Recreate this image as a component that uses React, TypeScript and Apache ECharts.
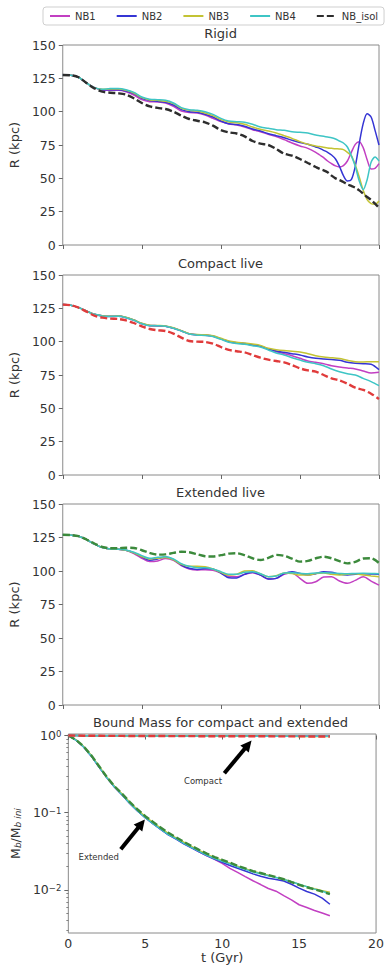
import React, { useEffect, useRef } from 'react';
import * as echarts from 'echarts';

// ---------- time grids ----------
const T_RIGID = [0, 0.5, 1, 1.5, 2, 2.5, 3, 3.5, 4, 4.5, 5, 5.5, 6, 6.5, 7, 7.5, 8, 8.5, 9, 9.5, 10, 10.5, 11, 11.5, 12, 12.5, 13, 13.5, 14, 14.5, 15, 15.5, 16,
  16.25, 16.5, 16.75, 17, 17.25, 17.5, 17.75, 18, 18.25, 18.5, 18.75, 19, 19.25, 19.5, 19.75, 20];
const T_HALF = [0, 0.5, 1, 1.5, 2, 2.5, 3, 3.5, 4, 4.5, 5, 5.5, 6, 6.5, 7, 7.5, 8, 8.5, 9, 9.5, 10, 10.5, 11, 11.5, 12, 12.5, 13, 13.5, 14, 14.5, 15, 15.5, 16, 16.5, 17, 17.5, 18, 18.5, 19, 19.5, 20];
const T_MASS = [0, 0.5, 1, 1.5, 2, 2.5, 3, 3.5, 4, 4.5, 5, 5.5, 6, 6.5, 7, 7.5, 8, 8.5, 9, 9.5, 10, 10.5, 11, 11.5, 12, 12.5, 13, 13.5, 14, 14.5, 15, 15.5, 16, 16.5, 17];

// ---------- Rigid: R (kpc) ----------
const RIGID_NB1 = [127.5, 127.3, 125.8, 121.5, 118, 116.3, 116, 116, 115, 112.5, 109, 107.5, 107.3, 106.5, 104, 100.5, 99.3, 99, 97.5, 95, 92.5, 90.8, 90, 88.5, 86.5, 85, 83, 81.3, 79, 76.5, 74.3, 72.5, 69.5,
  67.5, 65.5, 63, 61, 59.3, 58.5, 59.5, 63, 69.5, 75.5, 77.5, 73, 64, 57, 57.5, 61];
const RIGID_NB2 = [127.5, 127.3, 125.8, 121.5, 118, 116.5, 116.5, 116.5, 115.5, 113.5, 110, 108.3, 107.8, 107, 105, 101.5, 100, 99.5, 98, 96, 93, 91, 90.3, 89, 87, 85.5, 83.5, 82, 80.5, 78.5, 76.8, 75.5, 73.5,
  72.5, 71, 69.5, 67.5, 64.5, 59, 52, 48, 49, 59, 76, 91, 98.5, 96, 86, 75];
const RIGID_NB3 = [127.5, 127.3, 125.8, 121.5, 118, 116.8, 117, 117, 116, 114, 110.5, 108.8, 108.5, 107.8, 106, 102.5, 101, 100.5, 99, 97, 94, 92.3, 91.7, 90.5, 88.5, 86.8, 85.5, 84, 82, 80, 77.5, 75.5, 74.2,
  73.8, 73.3, 72.8, 72.5, 72.2, 72, 71.5, 69.5, 67, 60, 51, 41, 34, 31, 30.5, 33];
const RIGID_NB4 = [127.5, 127.3, 125.8, 121.5, 118, 116.8, 117.3, 117.3, 116.5, 114.5, 111, 109.3, 109, 108.5, 106.5, 103, 101.5, 101, 100, 98, 95, 93, 92.5, 92, 90.5, 88.5, 87.5, 86.5, 86, 85, 84.5, 84, 82.5,
  82, 81.5, 81, 80.5, 79.5, 78, 76.5, 73.5, 67, 59, 48, 41.5, 49, 62, 66, 63];
const RIGID_ISOL = [127.5, 127.3, 125.8, 121.5, 117.5, 115, 114.2, 113.8, 112.8, 110, 106.5, 104, 102.8, 102, 100, 97, 94.5, 93.2, 92, 89.5, 86.2, 84.5, 83.6, 81.5, 78, 76, 75, 72, 68.5, 67, 64.5, 61.5, 58.5,
  57, 56, 54.5, 52, 50, 48.7, 47.3, 45.5, 44.3, 43, 41, 38.5, 36, 33.8, 31, 28];

// ---------- Compact live: R (kpc) ----------
const CMP_NB1 = [127.8, 127.3, 125.5, 123, 120.5, 119.3, 118.8, 119, 118, 116, 113.5, 112, 111.8, 111.5, 110, 108, 105.8, 105, 104.8, 104, 102, 100, 99, 98.5, 97.5, 96.3,
  94.5, 92.5, 91, 89.5, 87.5, 85.5, 84.5, 83.5, 82, 81, 80.2, 79.5, 78, 76.5, 77];
const CMP_NB2 = [127.8, 127.3, 125.5, 123, 120.6, 119.4, 119, 119.2, 118.2, 116.2, 113.6, 112.2, 112, 111.6, 110.2, 108.2, 106, 105.2, 105, 104.2, 102.2, 100.2, 99.2, 98.7, 97.6, 96.5,
  94.5, 93, 92, 91, 90, 88.5, 87.5, 87, 86.7, 86, 84.5, 83.8, 83.5, 83, 79];
const CMP_NB3 = [127.8, 127.3, 125.5, 123, 120.6, 119.5, 119, 119.2, 118.3, 116.3, 113.8, 112.3, 112.1, 111.8, 110.4, 108.3, 106, 105.3, 105.1, 104.4, 102.5, 100.6, 99.6, 99, 98.2, 97.2,
  95, 94, 93.3, 92.8, 92.3, 91, 89.5, 88.5, 88, 87.3, 86, 85, 84.8, 85, 85];
const CMP_NB4 = [127.8, 127.3, 125.5, 123, 120.5, 119.3, 118.9, 119.1, 118, 116, 113.5, 112, 111.9, 111.6, 110.1, 108, 105.7, 104.9, 104.6, 103.8, 101.7, 99.6, 98.6, 98, 97, 96,
  93.8, 91.5, 90, 88, 86.2, 84.5, 83.5, 82, 79.5, 77.5, 76, 75, 72.5, 70, 67];
const CMP_ISOL = [127.8, 127.3, 125.5, 122.5, 119.5, 118, 117.3, 117, 116, 114, 111.5, 109.5, 108.5, 108, 106, 103, 100.5, 100, 99.8, 98.5, 96, 93.8, 92.8, 92, 90, 88, 86.5, 85.5, 84.5, 82.5, 80, 78.5, 77.5, 75, 72.5, 71, 68.5, 65.5, 63.8, 61, 57];

// ---------- Extended live: R (kpc) ----------
const EXT_NB1 = [127, 126.8, 126, 123.5, 120, 117.5, 116.5, 116.3, 115.5, 113, 109.5, 107, 107.5, 109.3, 108, 104, 101.5, 100.7, 101, 100.5, 98.5, 96, 95.7, 97.5, 98.7, 97, 94, 94.5, 97.5, 98.5, 94.5, 90.8, 92, 95.5, 95.8, 92.5, 90.8, 93, 95.7, 92.5, 89.5];
const EXT_NB2 = [127, 126.8, 126, 123.5, 120, 117.5, 116.5, 116.3, 115.5, 113.5, 110.5, 108, 109, 110.5, 108.5, 104.5, 102, 101.2, 101.8, 101.5, 98.5, 95, 94.8, 97.5, 99, 97, 94, 94.5, 98, 99.5, 98.2, 97, 98, 99.5, 99, 97.5, 97, 97.5, 98, 97.8, 97.5];
const EXT_NB3 = [127, 126.8, 126, 123.5, 120, 117.5, 116.5, 116.3, 115.5, 113.5, 110.8, 109, 109.5, 110, 108.3, 105, 103.5, 103.5, 103.2, 101.5, 99, 97, 97.5, 100, 100.2, 98, 95.7, 96.5, 98.5, 98.2, 97, 97, 98.2, 98.5, 97.5, 97, 97.5, 98, 97, 96.3, 95.7];
const EXT_NB4 = [127, 126.8, 126, 123.5, 120, 117.5, 116.5, 116.3, 115.7, 114, 111.5, 109.5, 110.2, 110.7, 109, 105.5, 103.5, 102.5, 102.5, 101.5, 99.5, 97.5, 97.5, 99, 99.5, 98, 95.8, 96.3, 98.5, 98.7, 98.3, 98, 98.5, 98.7, 98.5, 98.2, 98, 98.2, 98.3, 98.2, 98];
const EXT_ISOL = [127, 126.8, 126, 123.5, 120.5, 118, 117, 117, 117.4, 117.2, 115.5, 113.5, 112.2, 112.4, 113.5, 114.4, 114, 112.5, 111, 110.8, 111.8, 113, 113.2, 111.8, 109.5, 108.2, 109.8, 112, 111.3, 109.2, 107, 107.5, 109.5, 110.7, 109.5, 107.3, 105.7, 106.8, 109.3, 109.5, 106];

// ---------- Bound mass fraction M_b / M_b,ini ----------
const MASS_EXT_NB1 = [1.0, 0.87, 0.71, 0.54, 0.39, 0.285, 0.215, 0.17, 0.132, 0.105, 0.086, 0.072, 0.061, 0.052, 0.046, 0.040, 0.0355, 0.031, 0.0275, 0.0248, 0.022, 0.019, 0.0168, 0.0148, 0.0131, 0.0117, 0.0104, 0.0096, 0.0084, 0.0074, 0.0064, 0.0059, 0.0054, 0.005, 0.0046];
const MASS_EXT_NB2 = [1.0, 0.87, 0.71, 0.54, 0.39, 0.285, 0.215, 0.17, 0.132, 0.105, 0.086, 0.072, 0.0605, 0.0515, 0.0455, 0.0395, 0.035, 0.031, 0.0277, 0.025, 0.0228, 0.0207, 0.019, 0.0175, 0.0161, 0.015, 0.0141, 0.0136, 0.013, 0.0118, 0.0105, 0.0095, 0.0088, 0.0078, 0.0065];
const MASS_EXT_NB3 = [1.0, 0.88, 0.72, 0.55, 0.40, 0.29, 0.22, 0.174, 0.136, 0.109, 0.089, 0.075, 0.063, 0.054, 0.047, 0.0415, 0.0365, 0.0325, 0.029, 0.026, 0.024, 0.0222, 0.0203, 0.0188, 0.0174, 0.0164, 0.0154, 0.0145, 0.0137, 0.0127, 0.0118, 0.011, 0.0103, 0.0097, 0.0093];
const MASS_EXT_NB4 = [1.0, 0.87, 0.71, 0.54, 0.39, 0.285, 0.215, 0.17, 0.132, 0.105, 0.086, 0.072, 0.061, 0.052, 0.046, 0.040, 0.0355, 0.0315, 0.028, 0.0255, 0.0235, 0.0217, 0.0198, 0.0184, 0.017, 0.0161, 0.0152, 0.0144, 0.0136, 0.0127, 0.0118, 0.011, 0.0102, 0.0096, 0.0089];
const MASS_EXT_ISOL = [1.0, 0.88, 0.72, 0.55, 0.40, 0.29, 0.22, 0.175, 0.137, 0.11, 0.09, 0.076, 0.064, 0.055, 0.048, 0.042, 0.037, 0.033, 0.0295, 0.0265, 0.0245, 0.0225, 0.0205, 0.019, 0.0175, 0.0165, 0.0155, 0.0146, 0.0137, 0.0126, 0.0116, 0.0108, 0.0101, 0.0095, 0.0088];
const MASS_CMP_NB1 = [1.0, 0.998, 0.996, 0.995, 0.994, 0.993, 0.992, 0.991, 0.99, 0.99, 0.989, 0.988, 0.988, 0.987, 0.986, 0.986, 0.985, 0.985, 0.984, 0.984, 0.983, 0.983, 0.982, 0.982, 0.981, 0.981, 0.98, 0.98, 0.98, 0.979, 0.979, 0.978, 0.978, 0.978, 0.977];
const MASS_CMP_NB2 = [1.0, 0.998, 0.997, 0.996, 0.995, 0.994, 0.993, 0.993, 0.992, 0.991, 0.99, 0.99, 0.989, 0.989, 0.988, 0.988, 0.987, 0.987, 0.986, 0.986, 0.985, 0.985, 0.984, 0.984, 0.983, 0.983, 0.983, 0.982, 0.982, 0.981, 0.981, 0.981, 0.98, 0.98, 0.98];
const MASS_CMP_NB3 = [1.0, 0.998, 0.996, 0.995, 0.993, 0.992, 0.991, 0.99, 0.989, 0.988, 0.988, 0.987, 0.986, 0.985, 0.985, 0.984, 0.983, 0.983, 0.982, 0.981, 0.981, 0.98, 0.98, 0.979, 0.979, 0.978, 0.977, 0.977, 0.976, 0.976, 0.975, 0.975, 0.974, 0.974, 0.973];
const MASS_CMP_NB4 = [1.0, 0.999, 0.997, 0.996, 0.995, 0.994, 0.993, 0.992, 0.991, 0.991, 0.99, 0.989, 0.989, 0.988, 0.987, 0.987, 0.986, 0.986, 0.985, 0.985, 0.984, 0.984, 0.983, 0.983, 0.982, 0.982, 0.981, 0.981, 0.98, 0.98, 0.98, 0.979, 0.979, 0.978, 0.978];
const MASS_CMP_ISOL = [1.0, 0.997, 0.995, 0.993, 0.992, 0.991, 0.99, 0.989, 0.988, 0.987, 0.986, 0.985, 0.985, 0.984, 0.983, 0.983, 0.982, 0.981, 0.981, 0.98, 0.98, 0.979, 0.979, 0.978, 0.978, 0.977, 0.977, 0.976, 0.976, 0.975, 0.975, 0.974, 0.974, 0.973, 0.973];

// annotation anchors in data space [t (Gyr), M_b/M_b,ini]
const ARROW_COMPACT = [[10.14, 0.324], [11.68, 0.76]];
const ARROW_EXTENDED = [[3.41, 0.0335], [4.75, 0.072]];
const LABEL_COMPACT = [8.75, 0.257];
const LABEL_EXTENDED = [1.98, 0.0263];

// ticks / labels
const X_TICK_STEP = 5;
const R_TICK_STEP = 25;
const LOG_MAJOR = [-2, -1, 0];
const LOG_MINOR_VALUES = [0.003, 0.004, 0.005, 0.006, 0.007, 0.008, 0.009, 0.02, 0.03, 0.04, 0.05, 0.06, 0.07, 0.08, 0.09, 0.2, 0.3, 0.4, 0.5, 0.6, 0.7, 0.8, 0.9];
const LEGEND_NAMES = ['NB1', 'NB2', 'NB3', 'NB4', 'NB_isol'];
const TITLES = ['Rigid', 'Compact live', 'Extended live', 'Bound Mass for compact and extended'];

const FONT = 'DejaVu Sans';
const COL = { nb1: '#c23fc2', nb2: '#3535d4', nb3: '#c3c334', nb4: '#3ec5c5', black: '#2d2d2d', red: '#e03b3b', green: '#3c8a3c' };
const GRIDS = [
  { left: 62, top: 45, width: 317, height: 200 },
  { left: 62, top: 275, width: 317, height: 200 },
  { left: 62, top: 504, width: 317, height: 201 },
  { left: 62, top: 734, width: 317, height: 199 },
];
const TITLE_Y = [27, 257, 486, 716];
const LOG_MIN = -2.56;
const LOG_MAX = 0.02;

const pairs = (t: number[], v: number[]) => t.map((x, i) => [x, v[i]]);
const logPairs = (t: number[], v: number[]) => t.map((x, i) => [x, Math.log10(v[i])]);

function line(name: string, color: string, gi: number, data: number[][], dashed = false, smooth: number | boolean = 0.3): any {
  return {
    type: 'line',
    name,
    xAxisIndex: gi,
    yAxisIndex: gi,
    data,
    symbol: 'none',
    showSymbol: false,
    smooth,
    silent: true,
    lineStyle: dashed ? { color, width: 2.4, type: [7, 3] } : { color, width: 1.5 },
    itemStyle: { color },
  };
}

function buildOption(): any {
  const series: any[] = [];
  // Rigid
  series.push(line('NB1', COL.nb1, 0, pairs(T_RIGID, RIGID_NB1)));
  series.push(line('NB2', COL.nb2, 0, pairs(T_RIGID, RIGID_NB2)));
  series.push(line('NB3', COL.nb3, 0, pairs(T_RIGID, RIGID_NB3)));
  series.push(line('NB4', COL.nb4, 0, pairs(T_RIGID, RIGID_NB4)));
  series.push(line('NB_isol', COL.black, 0, pairs(T_RIGID, RIGID_ISOL), true));
  // Compact
  series.push(line('NB1', COL.nb1, 1, pairs(T_HALF, CMP_NB1)));
  series.push(line('NB2', COL.nb2, 1, pairs(T_HALF, CMP_NB2)));
  series.push(line('NB3', COL.nb3, 1, pairs(T_HALF, CMP_NB3)));
  series.push(line('NB4', COL.nb4, 1, pairs(T_HALF, CMP_NB4)));
  series.push(line('NB_isol', COL.red, 1, pairs(T_HALF, CMP_ISOL), true));
  // Extended
  series.push(line('NB1', COL.nb1, 2, pairs(T_HALF, EXT_NB1)));
  series.push(line('NB2', COL.nb2, 2, pairs(T_HALF, EXT_NB2)));
  series.push(line('NB3', COL.nb3, 2, pairs(T_HALF, EXT_NB3)));
  series.push(line('NB4', COL.nb4, 2, pairs(T_HALF, EXT_NB4)));
  series.push(line('NB_isol', COL.green, 2, pairs(T_HALF, EXT_ISOL), true));
  // Bound mass (log10 of fraction on a value axis)
  series.push(line('NB1', COL.nb1, 3, logPairs(T_MASS, MASS_EXT_NB1), false, false));
  series.push(line('NB2', COL.nb2, 3, logPairs(T_MASS, MASS_EXT_NB2), false, false));
  series.push(line('NB3', COL.nb3, 3, logPairs(T_MASS, MASS_EXT_NB3), false, false));
  series.push(line('NB4', COL.nb4, 3, logPairs(T_MASS, MASS_EXT_NB4), false, false));
  const extIsol = line('NB_isol', COL.green, 3, logPairs(T_MASS, MASS_EXT_ISOL), true, false);
  extIsol.markLine = {
    silent: true,
    symbol: ['none', 'triangle'],
    symbolSize: 11,
    label: { show: false },
    lineStyle: { color: '#000', width: 4, type: 'solid' },
    data: [
      [{ coord: [ARROW_COMPACT[0][0], Math.log10(ARROW_COMPACT[0][1])] }, { coord: [ARROW_COMPACT[1][0], Math.log10(ARROW_COMPACT[1][1])] }],
      [{ coord: [ARROW_EXTENDED[0][0], Math.log10(ARROW_EXTENDED[0][1])] }, { coord: [ARROW_EXTENDED[1][0], Math.log10(ARROW_EXTENDED[1][1])] }],
    ],
  };
  extIsol.markPoint = {
    silent: true,
    symbol: 'circle',
    symbolSize: 0,
    label: { show: true, position: 'inside', formatter: '{b}', fontSize: 8.5, color: '#333', fontFamily: FONT },
    data: [
      { name: 'Compact', coord: [LABEL_COMPACT[0], Math.log10(LABEL_COMPACT[1])] },
      { name: 'Extended', coord: [LABEL_EXTENDED[0], Math.log10(LABEL_EXTENDED[1])] },
    ],
  };
  series.push(extIsol);
  series.push(line('NB1', COL.nb1, 3, logPairs(T_MASS, MASS_CMP_NB1), false, false));
  series.push(line('NB2', COL.nb2, 3, logPairs(T_MASS, MASS_CMP_NB2), false, false));
  series.push(line('NB3', COL.nb3, 3, logPairs(T_MASS, MASS_CMP_NB3), false, false));
  series.push(line('NB4', COL.nb4, 3, logPairs(T_MASS, MASS_CMP_NB4), false, false));
  series.push(line('NB_isol', COL.red, 3, logPairs(T_MASS, MASS_CMP_ISOL), true, false));

  const tickStyle = { show: true, length: 4, inside: false, lineStyle: { color: '#666', width: 1 } };

  const xAxis = GRIDS.map((_, i) => ({
    type: 'value',
    gridIndex: i,
    min: 0,
    max: 20,
    interval: X_TICK_STEP,
    axisLine: { show: false },
    axisTick: tickStyle,
    splitLine: { show: false },
    axisLabel: { show: i === 3, fontSize: 12.5, color: '#333', margin: 4, fontFamily: FONT },
    name: i === 3 ? 't (Gyr)' : '',
    nameLocation: 'middle',
    nameGap: 16,
    nameTextStyle: { fontSize: 13, color: '#333', fontFamily: FONT },
  }));

  const yAxis: any[] = [0, 1, 2].map((i) => ({
    type: 'value',
    gridIndex: i,
    position: 'left',
    min: 0,
    max: 150,
    interval: R_TICK_STEP,
    axisLine: { show: false },
    axisTick: tickStyle,
    splitLine: { show: false },
    axisLabel: { fontSize: 12.5, color: '#333', margin: 7, fontFamily: FONT },
    name: 'R (kpc)',
    nameLocation: 'middle',
    nameGap: 35,
    nameTextStyle: { fontSize: 13, color: '#333', fontFamily: FONT },
  }));
  yAxis.push({
    type: 'value',
    gridIndex: 3,
    position: 'left',
    min: LOG_MIN,
    max: LOG_MAX,
    axisLine: { show: false },
    axisTick: { ...tickStyle, customValues: LOG_MAJOR },
    splitLine: { show: false },
    axisLabel: {
      customValues: LOG_MAJOR,
      margin: 7,
      color: '#333',
      fontFamily: FONT,
      formatter: (v: number) => {
        const e = Math.round(v);
        return '{b|10}{s|' + (e < 0 ? '\u2212' + Math.abs(e) : String(e)) + '}';
      },
      rich: {
        b: { fontSize: 12.5, lineHeight: 13, verticalAlign: 'bottom', color: '#333', fontFamily: FONT },
        s: { fontSize: 8.5, lineHeight: 9, padding: [0, 0, 7, 0], verticalAlign: 'top', color: '#333', fontFamily: FONT },
      },
    },
    name: '{m|M}{u|b}{m|/M}{u|b ini}',
    nameLocation: 'middle',
    nameGap: 40,
    nameTextStyle: {
      rich: {
        m: { fontSize: 12.5, lineHeight: 13, verticalAlign: 'top', color: '#333', fontFamily: FONT },
        u: { fontSize: 9, lineHeight: 9, padding: [5, 0, 0, 0], verticalAlign: 'bottom', fontStyle: 'italic', color: '#333', fontFamily: FONT },
      },
    },
  });
  yAxis.push({
    type: 'value',
    gridIndex: 3,
    position: 'left',
    offset: 0,
    min: LOG_MIN,
    max: LOG_MAX,
    axisLine: { show: false },
    axisTick: { show: true, length: 2, inside: false, customValues: LOG_MINOR_VALUES.map((v) => Math.log10(v)), lineStyle: { color: '#666', width: 0.8 } },
    axisLabel: { show: false },
    splitLine: { show: false },
  });

  return {
    animation: false,
    backgroundColor: '#fff',
    textStyle: { fontFamily: FONT },
    grid: GRIDS.map((g) => ({ ...g, show: true, borderColor: '#8a8a8a', borderWidth: 1, backgroundColor: 'transparent' })),
    legend: {
      data: LEGEND_NAMES,
      left: 43,
      top: 7,
      orient: 'horizontal',
      itemWidth: 20,
      itemHeight: 10,
      itemGap: 20,
      padding: [4, 6],
      borderColor: '#cfcfcf',
      borderWidth: 1,
      borderRadius: 3,
      selectedMode: false,
      itemStyle: { opacity: 0 },
      textStyle: { fontSize: 10, color: '#333', fontFamily: FONT },
    },
    graphic: TITLES.map((text, i) => ({
      type: 'text',
      x: GRIDS[i].left + GRIDS[i].width / 2,
      y: TITLE_Y[i],
      silent: true,
      style: { text, align: 'center', verticalAlign: 'top', fontSize: 13, fontFamily: FONT, fill: '#333' },
    })),
    xAxis,
    yAxis,
    series,
  };
}

export default function App() {
  const ref = useRef<HTMLDivElement>(null);
  useEffect(() => {
    if (!ref.current) return;
    const chart = echarts.init(ref.current, null, { renderer: 'svg' });
    chart.setOption(buildOption());
    return () => chart.dispose();
  }, []);
  return (
    <div
      ref={ref}
      style={{ position: 'fixed', left: 0, top: 0, width: 387, height: 971, background: '#fff' }}
    />
  );
}
